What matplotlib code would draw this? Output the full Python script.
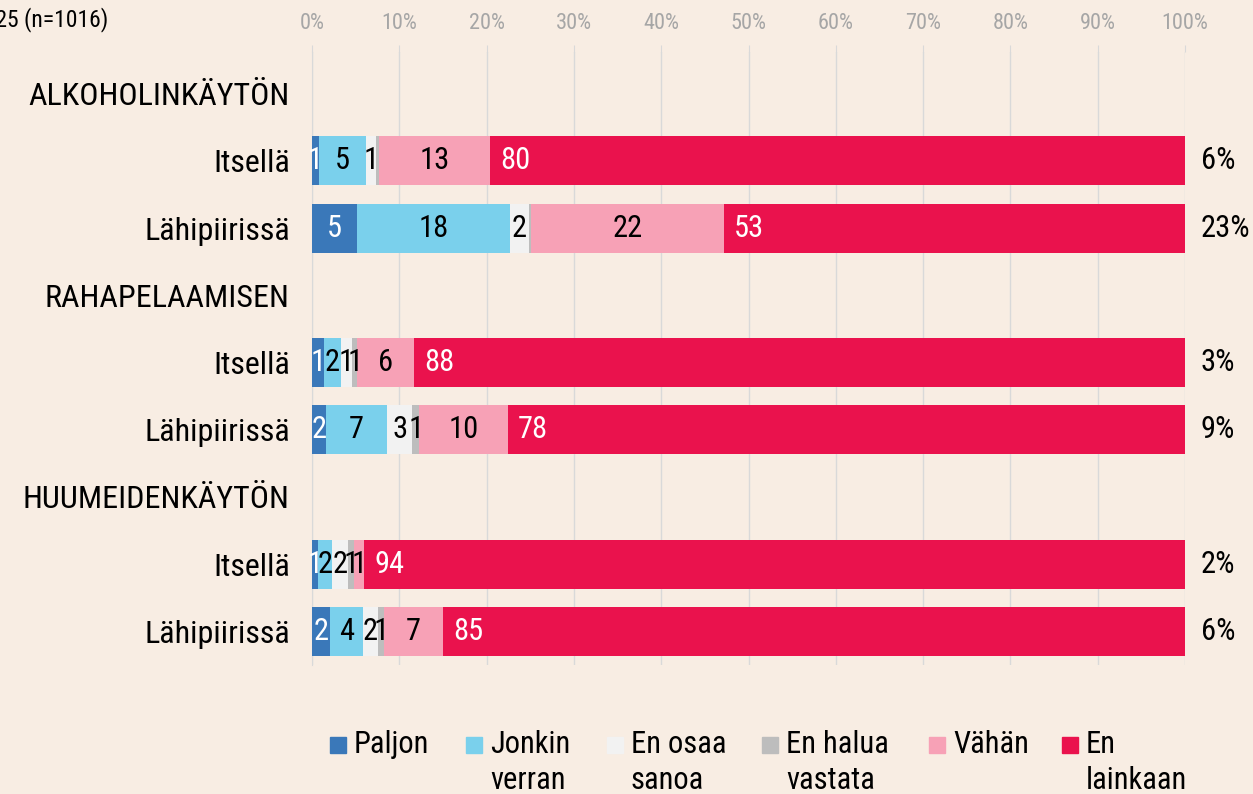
import matplotlib.pyplot as plt
import numpy as np

rows = ["ALKOHOLINKÄYTÖN", "Itsellä", "Lähipiirissä",
        "RAHAPELAAMISEN", "Itsellä", "Lähipiirissä",
        "HUUMEIDENKÄYTÖN", "Itsellä", "Lähipiirissä"]
series = ["Paljon", "Jonkin\nverran", "En osaa\nsanoa", "En halua\nvastata", "Vähän", "En\nlainkaan"]
colors = ["#3a78b9", "#7ad0ec", "#f2f2f2", "#bdbdbd", "#f7a1b6", "#ea124d"]
text_colors = ["white", "black", "black", "black", "black", "white"]

# shares (%) per bar row, order as in series; header rows have no bar
paljon = [0.8, 5.2, 1.4, 1.6, 0.7, 2.1]
jonkin = [5.4, 17.5, 1.9, 7.0, 1.6, 3.7]
en_osaa = [1.1, 2.1, 1.3, 2.9, 1.8, 1.8]
en_halua = [0.4, 0.3, 0.6, 0.8, 0.7, 0.6]
vahan = [12.7, 22.1, 6.5, 10.1, 1.2, 6.8]
ei_lainkaan = [79.6, 52.8, 88.3, 77.6, 94.0, 85.0]
right_labels = ["6%", "23%", "3%", "9%", "2%", "6%"]
bar_rows = [1, 2, 4, 5, 7, 8]

bg = "#f8ede3"
plt.rcParams["font.family"] = ["Roboto Condensed", "Roboto", "DejaVu Sans"]

fig = plt.figure(figsize=(12.53, 7.94), dpi=100, facecolor=bg)
ax = fig.add_axes([312 / 1253, 1 - 665 / 794, (1185 - 312) / 1253, (665 - 52) / 794])
ax.set_facecolor(bg)

data = np.array([paljon, jonkin, en_osaa, en_halua, vahan, ei_lainkaan])
left = np.zeros(len(bar_rows))
for i, (name, c) in enumerate(zip(series, colors)):
    vals = data[i]
    ax.barh(bar_rows, vals, left=left, height=0.73, color=c, zorder=3)
    for y, l, v in zip(bar_rows, left, vals):
        lab = int(round(v))
        if lab == 0:
            continue
        x = l + 2.9 if i == 5 else l + v / 2
        ax.text(x, y, str(lab), ha="center", va="center", fontsize=22,
                color=text_colors[i], zorder=4)
    left += vals

for y, t in zip(bar_rows, right_labels):
    ax.text(101.8, y, t, ha="left", va="center", fontsize=22, color="black")

ax.set_xlim(0, 100)
ax.set_ylim(8.5, -0.62)
ax.set_yticks(range(len(rows)))
ax.set_yticklabels(rows, fontsize=23)
ax.tick_params(axis="y", length=0, pad=16)
ax.xaxis.tick_top()
ax.set_xticks(np.arange(0, 101, 10))
ax.set_xticklabels([f"{v}%" for v in range(0, 101, 10)], fontsize=16, color="#a6a6a6")
ax.tick_params(axis="x", length=5, color="#d9d9d9", pad=8)
ax.grid(axis="x", color="#d9d9d9", linewidth=1, zorder=0)
for s in ax.spines.values():
    s.set_visible(False)
ax.spines["left"].set_visible(True)
ax.spines["left"].set_color("#d9d9d9")

fig.text(108 / 1253, 1 - 20 / 794, "2025 (n=1016)", ha="right", va="center", fontsize=17)

# legend drawn by hand so that two-line labels hang from the first line
leg_x = [330, 466, 607, 762, 929, 1062]
for x, name, c in zip(leg_x, series, colors):
    fig.patches.append(plt.Rectangle((x / 1253, 1 - 753 / 794), 16 / 1253, 16 / 794,
                                     transform=fig.transFigure, color=c))
    fig.text((x + 24) / 1253, 1 - 730 / 794, name, ha="left", va="top",
             fontsize=22, linespacing=1.3)

fig.savefig("out.png", dpi=100, facecolor=bg)
